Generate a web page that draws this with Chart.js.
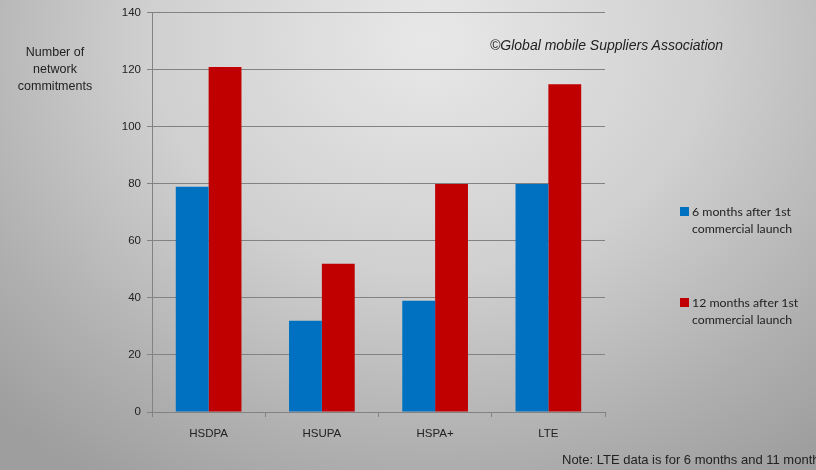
<!DOCTYPE html>
<html>
<head>
<meta charset="utf-8">
<script src="https://cdn.jsdelivr.net/npm/chart.js@4.4.1/dist/chart.umd.min.js"></script>
<style>
  html, body { margin: 0; padding: 0; }
  body {
    width: 816px; height: 470px; overflow: hidden; position: relative;
    background: radial-gradient(ellipse 620px 520px at 430px 40px, #e8e8e8 0%, #d0d0d0 45%, #afafaf 80%, #9e9e9e 100%);
    font-family: "Liberation Sans", Arial, sans-serif; color: #222;
  }
  #wrap { position: absolute; left: 0; top: 0; width: 816px; height: 470px; }
  .txt { position: absolute; white-space: nowrap; }
  #ytitle { left: 10px; top: 44px; width: 90px; text-align: center; font-size: 12.5px; line-height: 17px; }
  #copy { left: 490px; top: 37px; font-size: 14px; font-style: italic; }
  .leg { position: absolute; left: 680px; font-family: Lato, "Open Sans", sans-serif; font-size: 12.3px; line-height: 17px; color: #222; }
  .leg i { position: absolute; left: 0; top: 4px; width: 9px; height: 9px; }
  .leg span { display: block; padding-left: 12px; }
  #note { left: 562px; top: 452px; font-size: 13px; }
</style>
</head>
<body>
<div id="wrap"><canvas id="c" width="816" height="470"></canvas></div>
<div class="txt" id="ytitle">Number of<br>network<br>commitments</div>
<div class="txt" id="copy">©Global mobile Suppliers Association</div>
<div class="leg" style="top:203px"><i style="background:#0070c0"></i><span>6 months after 1st</span><span>commercial launch</span></div>
<div class="leg" style="top:294px"><i style="background:#c00000"></i><span>12 months after 1st</span><span>commercial launch</span></div>
<div class="txt" id="note">Note: LTE data is for 6 months and 11 months</div>
<script>
const categories = ['HSDPA', 'HSUPA', 'HSPA+', 'LTE'];
const sixMonths = [79, 32, 39, 80];
const twelveMonths = [121, 52, 80, 115];
const seriesLabels = ['6 months after 1st commercial launch', '12 months after 1st commercial launch'];

const axisColor = '#828282';
const tickFont = { family: "'Liberation Sans', Arial, sans-serif", size: 11.5 };

new Chart(document.getElementById('c'), {
  type: 'bar',
  data: {
    labels: categories,
    datasets: [
      { label: seriesLabels[0], data: sixMonths, backgroundColor: '#0070c0', barPercentage: 1, categoryPercentage: 0.58 },
      { label: seriesLabels[1], data: twelveMonths, backgroundColor: '#c00000', barPercentage: 1, categoryPercentage: 0.58 }
    ]
  },
  options: {
    responsive: false,
    animation: false,
    layout: { padding: { top: 12, right: 211, left: 0, bottom: 0 } },
    plugins: { legend: { display: false }, tooltip: { enabled: false } },
    scales: {
      x: {
        grid: { drawOnChartArea: false, drawTicks: true, tickLength: 5, color: axisColor },
        border: { color: axisColor, width: 1 },
        ticks: { color: '#222', font: tickFont, padding: 10 },
        afterFit: s => { s.height = 58; }
      },
      y: {
        min: 0, max: 140,
        ticks: { stepSize: 20, color: '#222', font: tickFont, padding: 6 },
        grid: { color: axisColor, tickLength: 5, lineWidth: 1 },
        border: { color: axisColor, width: 1 },
        afterFit: s => { s.width = 152; }
      }
    }
  }
});
</script>
</body>
</html>
